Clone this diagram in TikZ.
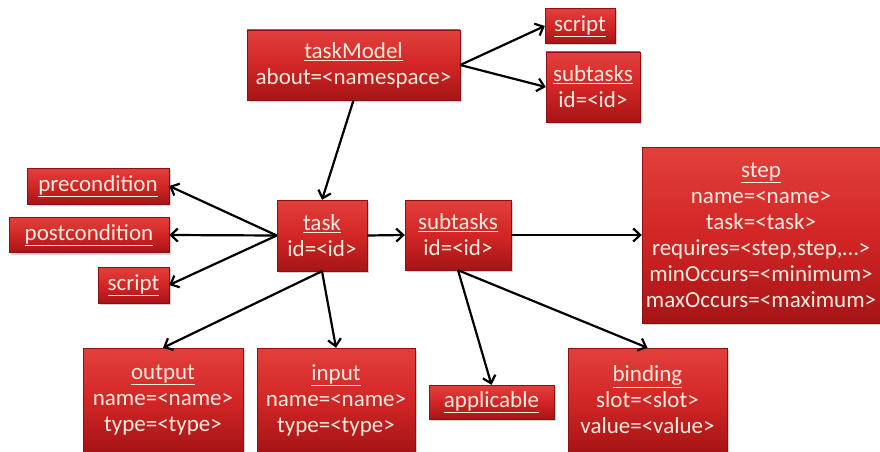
\documentclass[tikz,border=0pt]{standalone}
\usepackage{fontspec}
\setmainfont{Carlito}
\usetikzlibrary{arrows.meta,shadows}
\definecolor{boxtop}{RGB}{226,64,60}
\definecolor{boxmid}{RGB}{210,38,38}
\definecolor{boxbot}{RGB}{166,20,22}
\definecolor{boxtext}{RGB}{250,236,222}
\newcommand{\ttl}[1]{$\underline{\hbox{#1}}$}
\begin{document}
\begin{tikzpicture}[x=1pt,y=-1pt,
  rbox/.style={draw=boxbot!85!black, line width=0.4pt, top color=boxtop, bottom color=boxbot, middle color=boxmid,
    text=boxtext, align=center, inner sep=0pt, font=\fontsize{23}{26}\selectfont,
    drop shadow={shadow xshift=1.5pt,shadow yshift=-2pt,opacity=0.35}},
  conn/.style={line width=2.2pt, -{Straight Barb[length=7pt,width=13pt,line width=2.2pt]}}]
\useasboundingbox (0,0) rectangle (880,452);
\fill[white] (0,0) rectangle (880,452);

\node[rbox, minimum width=213pt, minimum height=70pt] (tm) at (353.5,65) {\ttl{taskModel}\\about=<namespace>};
\node[rbox, minimum width=70pt, minimum height=35pt] (sc1) at (580,26) {\ttl{script}};
\node[rbox, minimum width=94pt, minimum height=70pt] (st1) at (593,87) {\ttl{subtasks}\\id=<id>};

\node[rbox, minimum width=142pt, minimum height=36pt] (pre) at (98,186) {\ttl{precondition}};
\node[rbox, minimum width=160pt, minimum height=35pt] (post) at (89,235) {\ttl{postcondition}};
\node[rbox, minimum width=71pt, minimum height=36pt] (sc2) at (133.5,285) {\ttl{script}};

\node[rbox, minimum width=90pt, minimum height=71pt] (task) at (322,235.5) {\ttl{task}\\id=<id>};
\node[rbox, minimum width=106pt, minimum height=70pt] (st2) at (458,235) {\ttl{subtasks}\\id=<id>};
\node[rbox, minimum width=238pt, minimum height=176pt] (step) at (761,235) {\ttl{step}\\name=<name>\\task=<task>\\requires=<step,step,…>\\minOccurs=<minimum>\\maxOccurs=<maximum>};

\node[rbox, minimum width=160pt, minimum height=104pt] (out) at (163,400) {\ttl{output}\\name=<name>\\type=<type>};
\node[rbox, minimum width=158pt, minimum height=104pt] (in) at (336,400) {\ttl{input}\\name=<name>\\type=<type>};
\node[rbox, minimum width=125pt, minimum height=34pt] (app) at (491.5,402) {\ttl{applicable}};
\node[rbox, minimum width=159pt, minimum height=104pt] (bind) at (647.5,400) {\ttl{binding}\\slot=<slot>\\value=<value>};

\draw[conn] (tm.east) -- (sc1.west);
\draw[conn] (tm.east) -- (st1.west);
\draw[conn] (tm.south) -- (task.north);
\draw[conn] (task.west) -- (pre.east);
\draw[conn] (task.west) -- (post.east);
\draw[conn] (task.west) -- (sc2.east);
\draw[conn] (task.east) -- (st2.west);
\draw[conn] (st2.east) -- (step.west);
\draw[conn] (task.south) -- (out.north);
\draw[conn] (task.south) -- (in.north);
\draw[conn] (st2.south) -- (app.north);
\draw[conn] (st2.south) -- (bind.north);
\end{tikzpicture}
\end{document}
